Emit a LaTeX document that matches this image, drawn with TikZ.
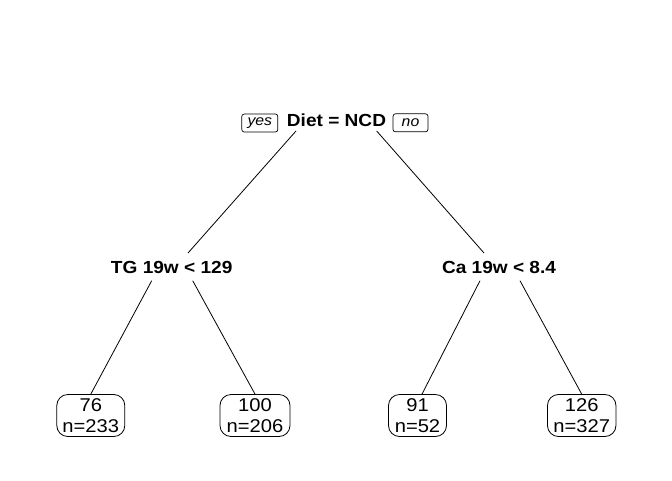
\documentclass[tikz,border=0pt]{standalone}
\usepackage{fontspec}
\setmainfont{Liberation Sans}[FakeStretch=1.09]
\begin{document}
\begin{tikzpicture}[x=1pt,y=-1pt,
  split/.style={inner sep=0pt,anchor=base,font=\fontsize{17.5}{20}\selectfont\bfseries},
  leaf/.style={draw,line width=0.8pt,rounded corners=11pt,inner sep=0pt,minimum height=42pt,align=center,font=\fontsize{18.5}{21}\selectfont},
  yn/.style={draw,line width=0.7pt,rounded corners=2.5pt,inner sep=0pt,minimum height=18pt,font=\fontsize{14.5}{16}\selectfont\itshape},
  edge/.style={line width=0.8pt}]
\useasboundingbox (0,0) rectangle (672,480);
\node[split] (root) at (336.5,126.5) {Diet = NCD};
\node[yn,minimum width=36pt] (yes) at (259.8,123) {yes};
\node[yn,minimum width=35pt] (no) at (410.5,122.8) {no};
\node[split] (tg) at (171.7,273.3) {TG 19w < 129};
\node[split] (ca) at (499,273.3) {Ca 19w < 8.4};
\node[leaf,minimum width=68pt] (l1) at (90.8,415.5) {76\\n=233};
\node[leaf,minimum width=70pt] (l2) at (255,415.5) {100\\n=206};
\node[leaf,minimum width=58pt] (l3) at (417.5,415.5) {91\\n=52};
\node[leaf,minimum width=68.5pt] (l4) at (581.7,415.5) {126\\n=327};
\draw[edge] ([shift={(-40.5,4.5)}]root.base) -- ([shift={(16.3,-20.3)}]tg.base);
\draw[edge] ([shift={(40.2,4.5)}]root.base) -- ([shift={(-15,-20.3)}]ca.base);
\draw[edge] ([shift={(-20,7.4)}]tg.base) -- (l1.north);
\draw[edge] ([shift={(21,7.4)}]tg.base) -- (l2.north);
\draw[edge] ([shift={(-19,7.4)}]ca.base) -- ([xshift=4.5pt]l3.north);
\draw[edge] ([shift={(21,7.4)}]ca.base) -- (l4.north);
\end{tikzpicture}
\end{document}
